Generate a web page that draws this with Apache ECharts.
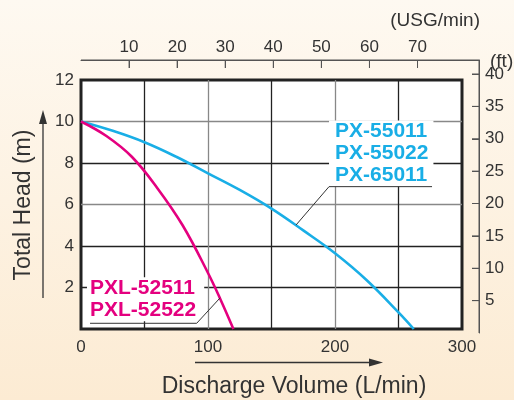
<!DOCTYPE html>
<html><head><meta charset="utf-8">
<script src="https://cdn.jsdelivr.net/npm/echarts@6/dist/echarts.min.js"></script>
<style>html,body{margin:0;padding:0;}#c,#tmp{width:514px;height:400px;}#tmp{position:absolute;left:-2000px;top:0;}</style>
</head><body><div id="c"></div><div id="tmp"></div>
<script>
// ---- data ----
const usgTicks = [10, 20, 30, 40, 50, 60, 70];
const ftTicks = [5, 10, 15, 20, 25, 30, 35, 40];
const pxFlow = [0, 25, 50, 75, 100, 125, 150, 175, 200, 225, 250, 262];
const pxHead = [10, 9.55, 9.0, 8.3, 7.5, 6.7, 5.8, 4.75, 3.65, 2.35, 0.8, 0];
const pxlFlow = [0, 20, 40, 60, 80, 100, 110, 120];
const pxlHead = [10, 9.3, 8.3, 6.8, 5.0, 2.7, 1.4, 0];
const pxNames = ['PX-55011', 'PX-55022', 'PX-65011'];
const pxlNames = ['PXL-52511', 'PXL-52522'];
// annotation anchors (data coords: L/min, m)
const pxLeaderFlow = [276.4, 195.3, 169.3];
const pxLeaderHead = [6.86, 6.86, 5.01];
const pxlLeaderFlow = [7.1, 91.1, 109.5];
const pxlLeaderHead = [0.275, 0.275, 1.5];
const pxTextAnchor = [195.3, 10.05];
const pxlTextAnchor = [4.7, 2.5];
const LITER_PER_USG = 3.78541;

const BLUE = '#19aee6', PINK = '#e4007f', TXT = '#333', AX = '#555';
const FONT = '"Liberation Sans", Arial, sans-serif';
const zip = (a, b) => a.map((v, i) => [v, b[i]]);

const plotW = 381, overlayW = 398;
const usgMax = (300 / LITER_PER_USG) * overlayW / plotW;
const ftMax = 40 * 273 / 259;

function baseOption() {
  return {
  animation: false,
  backgroundColor: new echarts.graphic.LinearGradient(0, 0, 0, 1, [
    { offset: 0, color: '#fef9f1' }, { offset: 1, color: '#fcebd3' }]),
  textStyle: { fontFamily: FONT },
  grid: [
    { left: 81, top: 80, width: plotW, height: 249, show: true, backgroundColor: '#fff',
      borderColor: '#222', borderWidth: 3 },
    { left: 81, top: 60, width: overlayW, height: 273, show: false }
  ],
  xAxis: [
    { type: 'value', gridIndex: 0, min: 0, max: 300, interval: 50,
      axisLine: { show: false, onZero: false }, axisTick: { show: false },
      axisLabel: { color: TXT, fontSize: 17, margin: 10,
        formatter: v => (v % 100 === 0 ? String(v) : '') },
      splitLine: { show: true, showMinLine: false, showMaxLine: false,
        lineStyle: { color: ['#222', '#888'], width: 1.3 } } },
    { type: 'value', gridIndex: 1, position: 'top', min: 0, max: usgMax,
      axisLine: { show: true, onZero: false, lineStyle: { color: AX, width: 1 } },
      axisTick: { show: true, inside: true, length: 8, customValues: usgTicks, lineStyle: { color: AX } },
      axisLabel: { color: TXT, fontSize: 17, margin: 4, customValues: usgTicks },
      splitLine: { show: false } }
  ],
  yAxis: [
    { type: 'value', gridIndex: 0, min: 0, max: 12, interval: 2,
      axisLine: { show: false, onZero: false }, axisTick: { show: false },
      axisLabel: { color: TXT, fontSize: 17, margin: 7,
        formatter: v => (v === 0 ? '' : String(v)) },
      splitLine: { show: true, showMinLine: false, showMaxLine: false,
        lineStyle: { color: ['#222', '#222', '#888', '#222', '#888'], width: 1.3 } } },
    { type: 'value', gridIndex: 1, position: 'right', min: 0, max: ftMax,
      axisLine: { show: true, onZero: false, lineStyle: { color: AX, width: 1 } },
      axisTick: { show: true, inside: true, length: 7, customValues: ftTicks, lineStyle: { color: AX } },
      axisLabel: { color: TXT, fontSize: 17, margin: 6, customValues: ftTicks },
      splitLine: { show: false } }
  ],
  series: [
    { type: 'line', name: 'PX', xAxisIndex: 0, yAxisIndex: 0, data: zip(pxFlow, pxHead),
      smooth: 0.4, showSymbol: false, z: 10, lineStyle: { color: BLUE, width: 2.6 } },
    { type: 'line', name: 'PXL', xAxisIndex: 0, yAxisIndex: 0, data: zip(pxlFlow, pxlHead),
      smooth: 0.4, showSymbol: false, z: 10, lineStyle: { color: PINK, width: 2.6 } },
    { type: 'line', xAxisIndex: 0, yAxisIndex: 0, data: zip(pxLeaderFlow, pxLeaderHead),
      showSymbol: false, z: 12, lineStyle: { color: '#333', width: 1 } },
    { type: 'line', xAxisIndex: 0, yAxisIndex: 0, data: zip(pxlLeaderFlow, pxlLeaderHead),
      showSymbol: false, z: 12, lineStyle: { color: '#333', width: 1 } }
  ]
  };
}

// measure pixels with the library's own scales on a throwaway instance
const tmp = echarts.init(document.getElementById('tmp'));
tmp.setOption(baseOption());
const pA = tmp.convertToPixel({ gridIndex: 0 }, pxTextAnchor);
const lA = tmp.convertToPixel({ gridIndex: 0 }, pxlTextAnchor);
const topY = tmp.convertToPixel({ yAxisIndex: 1 }, ftMax);
const botY = tmp.convertToPixel({ yAxisIndex: 1 }, 0);
const leftX = tmp.convertToPixel({ xAxisIndex: 1 }, 0);
const rightX = tmp.convertToPixel({ xAxisIndex: 1 }, usgMax);
const usgPx = usgTicks.map(v => tmp.convertToPixel({ xAxisIndex: 1 }, v));
const ftPx = ftTicks.map(v => tmp.convertToPixel({ yAxisIndex: 1 }, v));
tmp.dispose();

const axStyle = { stroke: AX, lineWidth: 1 };
const opt = baseOption();
opt.graphic = [
    { type: 'text', x: pA[0], y: pA[1], z: 5,
      style: { text: pxNames.join('\n'), fill: BLUE, font: 'bold 21px ' + FONT, lineHeight: 22,
        backgroundColor: '#fff', padding: [0, 5, 0, 6], verticalAlign: 'top', align: 'left' } },
    { type: 'text', x: lA[0], y: lA[1], z: 5,
      style: { text: pxlNames.join('\n'), fill: PINK, font: 'bold 21px ' + FONT, lineHeight: 22,
        backgroundColor: '#fff', padding: [0, 8, 0, 3], verticalAlign: 'top', align: 'left' } },
    { type: 'text', x: 294, y: 387, z: 5,
      style: { text: 'Discharge Volume (L/min)', fill: TXT, font: '23px ' + FONT, align: 'center', verticalAlign: 'middle' } },
    { type: 'text', x: 24, y: 205, rotation: Math.PI / 2, z: 5,
      style: { text: 'Total Head (m)', fill: TXT, font: '23px ' + FONT, align: 'center', verticalAlign: 'middle' } },
    { type: 'text', x: 480, y: 21, z: 5,
      style: { text: '(USG/min)', fill: TXT, font: '19px ' + FONT, align: 'right', verticalAlign: 'middle' } },
    { type: 'text', x: 490, y: 62, z: 5,
      style: { text: '(ft)', fill: TXT, font: '19px ' + FONT, align: 'left', verticalAlign: 'middle' } },
    { type: 'line', z: 5, shape: { x1: 195, y1: 362.5, x2: 372, y2: 362.5 }, style: { stroke: '#333', lineWidth: 1.3 } },
    { type: 'polygon', z: 5, shape: { points: [[369, 358.5], [383, 362.5], [369, 366.5]] }, style: { fill: '#333' } },
    { type: 'line', z: 5, shape: { x1: 43, y1: 298, x2: 43, y2: 120 }, style: { stroke: '#333', lineWidth: 1.3 } },
    { type: 'polygon', z: 5, shape: { points: [[39, 124], [43, 110], [47, 124]] }, style: { fill: '#333' } },
    // top (USG) and right (ft) axis lines and ticks, placed from the library's scales
    { type: 'line', z: 5, shape: { x1: leftX, y1: topY, x2: rightX, y2: topY }, style: axStyle },
    { type: 'line', z: 5, shape: { x1: rightX, y1: topY, x2: rightX, y2: botY }, style: axStyle },
    ...usgPx.map(x => ({ type: 'line', z: 5, shape: { x1: x, y1: topY, x2: x, y2: topY + 8 }, style: axStyle })),
    ...ftPx.map(y => ({ type: 'line', z: 5, shape: { x1: rightX - 7, y1: y, x2: rightX, y2: y }, style: axStyle }))
];
const chart = echarts.init(document.getElementById('c'));
chart.setOption(opt);
</script></body></html>
